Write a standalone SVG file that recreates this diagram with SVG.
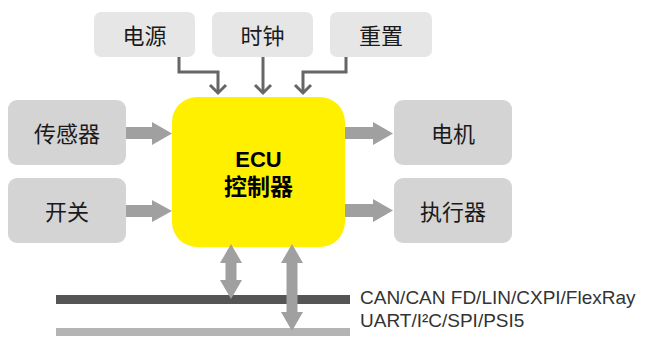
<svg xmlns="http://www.w3.org/2000/svg" width="645" height="337" viewBox="0 0 645 337">
<style>
.top{fill:#e6e6e6}
.side{fill:#d4d4d4}
.t{font-family:"Noto Sans CJK SC","Liberation Sans",sans-serif;font-size:22px;fill:#1a1a1a;text-anchor:middle;dominant-baseline:central}
.ecu{font-family:"Liberation Sans","Noto Sans CJK SC",sans-serif;font-weight:bold;fill:#000;text-anchor:middle}
.bus{font-family:"Liberation Sans",Arial,sans-serif;font-size:19px;fill:#333}
.wire{fill:none;stroke:#666;stroke-width:3}
.fat{fill:#a0a0a0}
</style>
<rect width="645" height="337" fill="#fff"/>
<g id="power"><rect class="top" x="94" y="12" width="101" height="45" rx="7"/><text class="t" x="144.5" y="34">电源</text></g>
<g id="clock"><rect class="top" x="212" y="12" width="101" height="45" rx="7"/><text class="t" x="262.5" y="34">时钟</text></g>
<g id="reset"><rect class="top" x="330" y="12" width="102" height="45" rx="7"/><text class="t" x="381" y="34">重置</text></g>
<g id="sensor"><rect class="side" x="8" y="100" width="118" height="65" rx="9"/><text class="t" x="67" y="132">传感器</text></g>
<g id="switch"><rect class="side" x="8" y="178" width="118" height="65" rx="9"/><text class="t" x="67" y="210">开关</text></g>
<g id="motor"><rect class="side" x="394" y="100" width="118" height="65" rx="9"/><text class="t" x="453" y="132">电机</text></g>
<g id="actuator"><rect class="side" x="394" y="178" width="118" height="65" rx="9"/><text class="t" x="453" y="210">执行器</text></g>
<g id="ecu"><rect x="172" y="97" width="173" height="150" rx="25" fill="#fff000"/>
<text class="ecu" x="258.5" y="167" font-size="22">ECU</text>
<text class="ecu" x="258.5" y="195" font-size="23" font-family="Noto Sans CJK SC, sans-serif">控制器</text></g>
<g id="buses">
<rect x="56" y="295" width="294" height="9" fill="#555"/>
<rect x="56" y="328" width="294" height="8" fill="#b4b4b4"/>
<text class="bus" x="360" y="304">CAN/CAN FD/LIN/CXPI/FlexRay</text>
<text class="bus" x="360" y="327">UART/I²C/SPI/PSI5</text>
</g>
<g id="connectors">
<polyline class="wire" points="179,57 179,72 218,72 218,92"/>
<polyline class="wire" points="210,85 218,93 226,85"/>
<polyline class="wire" points="263,57 263,92"/>
<polyline class="wire" points="255,85 263,93 271,85"/>
<polyline class="wire" points="346,57 346,72 303,72 303,92"/>
<polyline class="wire" points="295,85 303,93 311,85"/>
<polygon class="fat" points="126,127 152,127 152,122 172,133.5 152,145 152,139 126,139"/>
<polygon class="fat" points="126,205 152,205 152,200 172,211 152,222 152,217 126,217"/>
<polygon class="fat" points="345,127 373,127 373,122 393,133.5 373,145 373,139 345,139"/>
<polygon class="fat" points="345,204 373,204 373,199 393,210.5 373,222 373,217 345,217"/>
<polygon class="fat" points="231,244 242,263 236.5,263 236.5,280 242,280 231,299 220,280 225.5,280 225.5,263 220,263"/>
<polygon class="fat" points="292,244 303,263 297.5,263 297.5,312 303,312 292,331 281,312 286.5,312 286.5,263 281,263"/>
</g>
</svg>
